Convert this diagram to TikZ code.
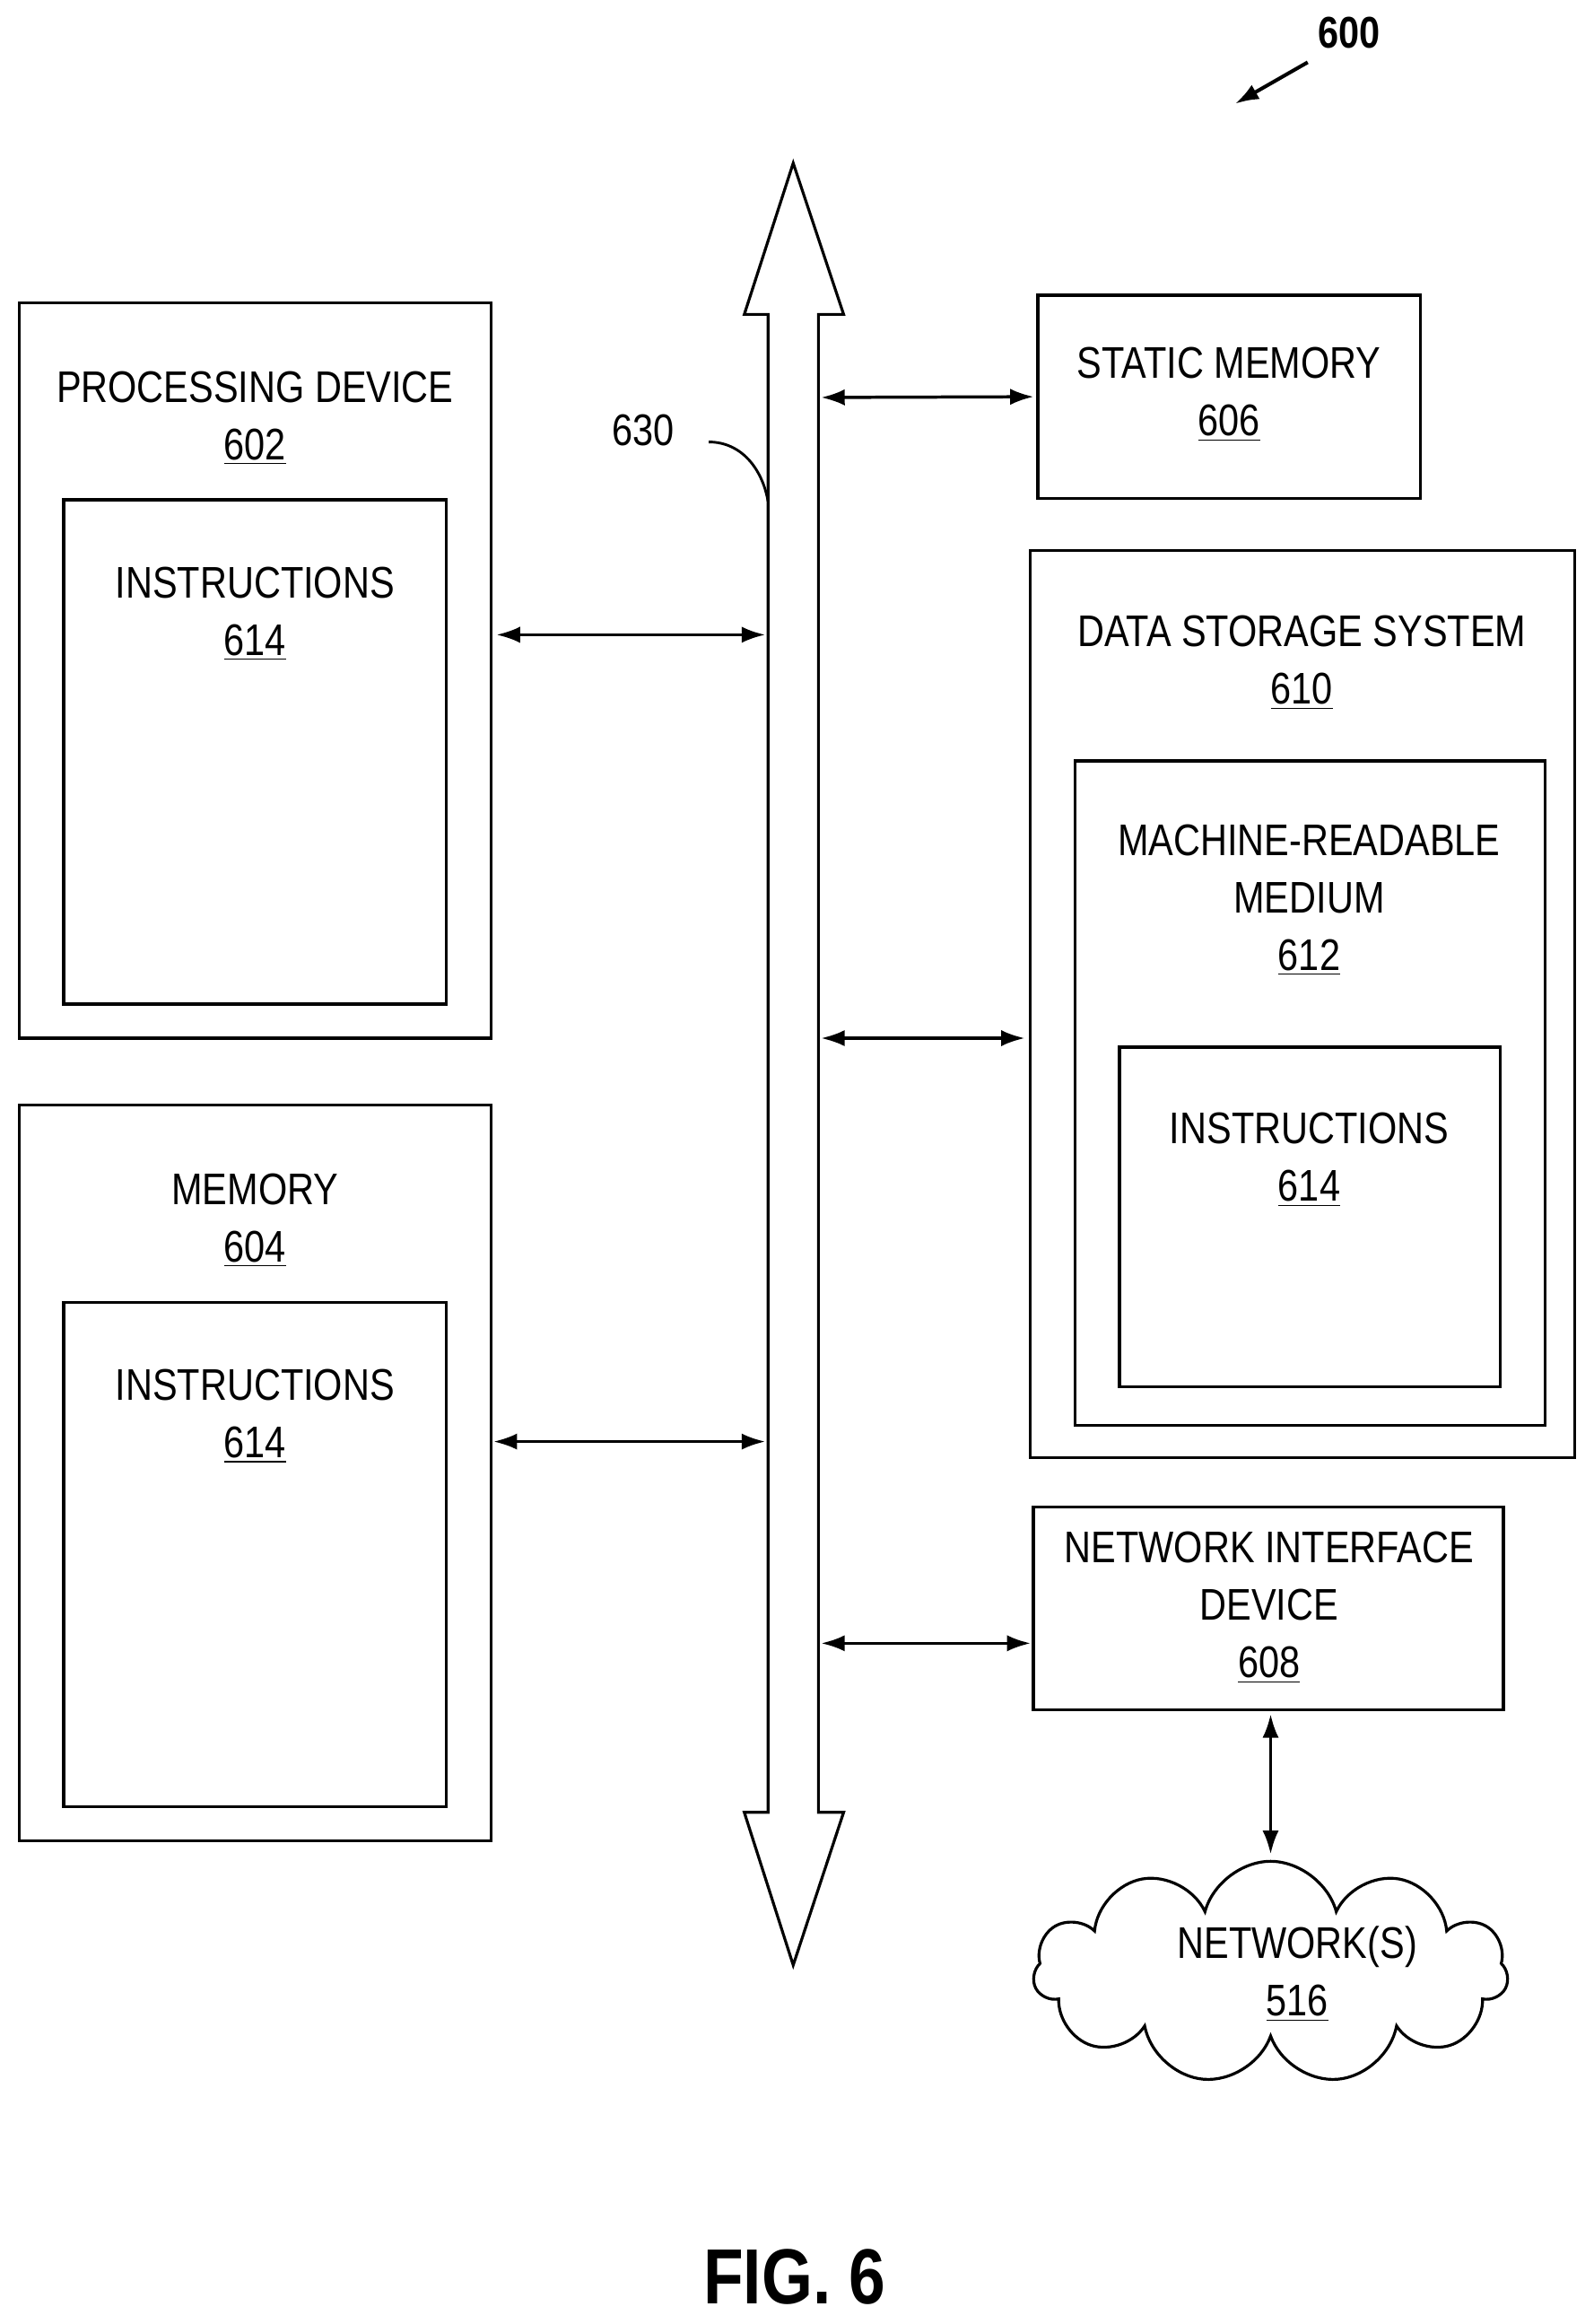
\documentclass[tikz,border=0pt]{standalone}
\usepackage{fontspec}
\setmainfont[FakeStretch=0.84]{Liberation Sans}
\usetikzlibrary{shapes,arrows,arrows.meta,positioning,calc}
\begin{document}
\begin{tikzpicture}[x=0.02cm,y=-0.02cm,>={Latex[length=3.2mm,width=2.2mm]},
box/.style={draw,line width=1.1pt},
lbl/.style={font=\fontsize{17}{21}\selectfont,align=center,inner sep=0pt},
link/.style={<->,line width=1.2pt,shorten <=1pt,shorten >=1pt}]
\useasboundingbox (0,0) rectangle (1075,1567);

% left boxes
\draw[box] (13,204) rectangle (331,700);
\draw[box] (43,337) rectangle (301,677);
\node (pd) [lbl] at (172,282) {PROCESSING DEVICE\\[1pt]\underline{602}};
\node (pdi) [lbl] at (172,414) {INSTRUCTIONS\\[1pt]\underline{614}};
\coordinate (pde) at (333,428);

\draw[box] (13,745) rectangle (331,1241);
\draw[box] (43,878) rectangle (301,1218);
\node (mem) [lbl] at (172,823) {MEMORY\\[1pt]\underline{604}};
\node (memi) [lbl] at (172,955) {INSTRUCTIONS\\[1pt]\underline{614}};
\coordinate (meme) at (331,972);

% bus
\draw[box,line join=miter] (518,212) -- (502,212) -- (535,110) -- (569,212) -- (552,212)
  -- (552,1222) -- (569,1222) -- (535,1325) -- (502,1222) -- (518,1222) -- cycle;
\node (bus) [lbl] at (434,290) {630};
\draw[line width=1pt] (478,298) to[out=0,in=100] (518,338);

% right boxes
\node (sm) [box,lbl,minimum width=258*0.02cm,minimum height=137*0.02cm] at (829,267.5) {};
\node [lbl] at (829,266) {STATIC MEMORY\\[1pt]\underline{606}};

\draw[box] (695,371) rectangle (1062,983);
\draw[box] (725,513) rectangle (1042,961);
\draw[box] (755,706) rectangle (1012,935);
\node (dss) [lbl] at (878,447) {DATA STORAGE SYSTEM\\[1pt]\underline{610}};
\node (mrm) [lbl] at (883,607) {MACHINE-READABLE\\[1pt]MEDIUM\\[1pt]\underline{612}};
\node (mrmi) [lbl] at (883,782) {INSTRUCTIONS\\[1pt]\underline{614}};
\coordinate (dssw) at (693,700);

\node (nid) [box,minimum width=317*0.02cm,minimum height=137*0.02cm] at (855.5,1084.5) {};
\node [lbl] at (856,1084) {NETWORK INTERFACE\\[1pt]DEVICE\\[1pt]\underline{608}};
\coordinate (nidw) at (697,1108);

\node (net) [cloud,draw,line width=1.1pt,cloud puffs=11,aspect=2.2,minimum width=320*0.02cm,minimum height=150*0.02cm,inner sep=0pt] at (857,1330) {};
\node [lbl] at (875,1331) {NETWORK(S)\\[1pt]\underline{516}};

% links
\coordinate (b1) at (518,428);
\coordinate (b2) at (518,972);
\coordinate (b3) at (552,268);
\coordinate (b4) at (552,700);
\coordinate (b5) at (552,1108);
\draw[link] (pde) -- (b1);
\draw[link] (meme) -- (b2);
\draw[link] (b3) -- (sm.west);
\draw[link] (b4) -- (dssw);
\draw[link] (b5) -- (nidw);
\draw[link] (nid.south -| 857,0) -- (857,1252);

% title
\node (ref) [font=\bfseries\fontsize{17}{20}\selectfont] at (910,22) {600};
\draw[->,line width=1.4pt] (882,42) -- (833,70);
\node (fig) [font=\bfseries\fontsize{30}{34}\selectfont] at (536,1535) {FIG. 6};
\end{tikzpicture}
\end{document}
